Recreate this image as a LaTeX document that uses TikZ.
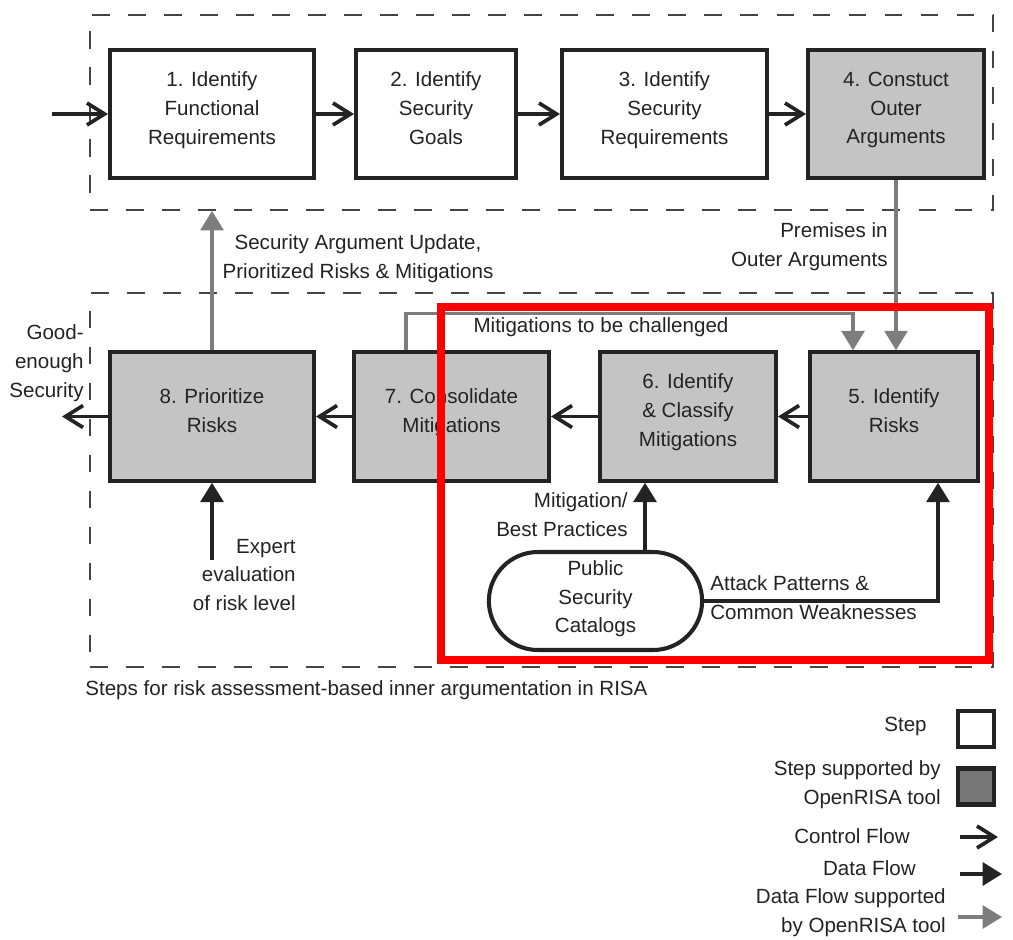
\documentclass[tikz,border=0pt]{standalone}
\usepackage{fontspec}
\setmainfont{Liberation Sans}
\usetikzlibrary{arrows.meta,shapes.misc}
\definecolor{ink}{RGB}{35,35,35}
\definecolor{stepfill}{RGB}{196,196,196}
\definecolor{keyfill}{RGB}{118,118,118}
\definecolor{toolline}{RGB}{125,125,125}
\begin{document}
\begin{tikzpicture}[x=0.02cm,y=-0.02cm,
  every node/.style={font=\fontsize{11.7}{16.4}\selectfont, text=ink},
  stepbox/.style={draw=ink, line width=2.3pt, align=center, minimum height=2.57cm, text depth=7pt, fill=white},
  toolbox/.style={stepbox, fill=stepfill},
  ctrl/.style={draw=ink, line width=2.1pt, -{Straight Barb[length=10pt,width=12.5pt,line width=2.1pt]}},
  data/.style={draw=ink, line width=2.1pt, -{Triangle[length=11pt,width=13pt]}},
  tooldata/.style={draw=toolline, line width=1.8pt, -{Triangle[length=11pt,width=13pt]}},
  phase/.style={draw=ink!85, line width=1.1pt, dash pattern=on 10pt off 10.5pt},
  note/.style={inner sep=0pt, align=center},
  lbl/.style={inner sep=0pt, align=right, anchor=east}]
\useasboundingbox (0,0) rectangle (1013,939);

\node[phase, minimum width=18.06cm, minimum height=3.9cm] (outer) at (541.5,112.5) {};
\node[phase, minimum width=18.06cm, minimum height=7.48cm] (inner) at (541.5,480) {};

\node[stepbox, minimum width=4.08cm] (1) at (212,114) {1. Identify\\Functional\\Requirements};
\node[stepbox, minimum width=3.2cm] (2) at (436,114) {2. Identify\\Security\\Goals};
\node[stepbox, minimum width=4.1cm] (3) at (664.5,114) {3. Identify\\Security\\Requirements};
\node[toolbox, minimum width=3.52cm] (4) at (896,114) {4. Constuct\\Outer\\Arguments};
\node[toolbox, minimum width=3.36cm] (5) at (894,416.5) {5. Identify\\Risks};
\node[toolbox, minimum width=3.52cm] (6) at (688,416.5) {6. Identify\\\& Classify\\Mitigations};
\node[toolbox, minimum width=3.9cm] (7) at (451.5,416.5) {7. Consolidate\\Mitigations};
\node[toolbox, minimum width=4.08cm] (8) at (212,416.5) {8. Prioritize\\Risks};
\node[draw=ink, line width=2.3pt, rounded rectangle, minimum width=4.5cm, minimum height=1.96cm, align=center, text depth=5pt, fill=white] (cat) at (595.5,601) {Public\\Security\\Catalogs};

\coordinate (in) at (52,114);
\coordinate (out) at (62,416.5);
\coordinate (expert) at (212,560);
\coordinate (m6) at ([xshift=-0.86cm]6.south);
\coordinate (a5) at ([xshift=0.88cm]5.south);
\coordinate (c7) at ([xshift=-0.91cm]7.north);
\coordinate (c5) at ([xshift=-0.82cm]5.north);

\path[ctrl] (in) -- (1);
\path[ctrl] (1) -- (2);
\path[ctrl] (2) -- (3);
\path[ctrl] (3) -- (4);
\path[ctrl] (5) -- (6);
\path[ctrl] (6) -- (7);
\path[ctrl] (7) -- (8);
\path[ctrl] (8) -- (out);

\path[data] (expert) -- (8);
\path[data] (m6 |- cat.north) -- (m6);
\path[data] (cat.east) -| (a5);

\path[tooldata] (8) -- (8.north |- outer.south);
\path[tooldata] (4) -- (4.south |- 5.north);
\path[tooldata] (c7) -- ++(0,-37) -| (c5);

\node[note] (upd) at (358,259) {Security Argument Update,\\Prioritized Risks \& Mitigations};
\node[lbl] (prem) at (888,247) {Premises in\\Outer Arguments};
\node[note] (chal) at (601,327) {Mitigations to be challenged};
\node[lbl] (good) at (84,363) {Good-\\enough\\Security};
\node[lbl] (eval) at (296,575) {Expert\\evaluation\\of risk level};
\node[lbl] (best) at (628,514.5) {Mitigation/\\Best Practices};
\node[note, align=left, anchor=west] (atk) at (710,598) {Attack Patterns \&\\Common Weaknesses};
\node[note, anchor=west] (cap) at (85,690) {Steps for risk assessment-based inner argumentation in RISA};

\node[draw=ink, line width=2.3pt, minimum size=0.72cm, fill=white] (kstep) at (976,729) {};
\node[lbl] (kstept) at (927,726) {Step};
\node[draw=ink, line width=2.3pt, minimum size=0.72cm, fill=keyfill] (ktool) at (976,786.5) {};
\node[lbl] (ktoolt) at (941,785) {Step supported by\\OpenRISA tool};
\node[lbl] (kctrlt) at (910,836) {Control Flow};
\node[lbl] (kdatat) at (916,868) {Data Flow};
\node[lbl] (ktdt) at (946,913) {Data Flow supported\\by OpenRISA tool};
\coordinate (kc1) at (960,837);
\coordinate (kc2) at (998,837);
\coordinate (kd1) at (960,874);
\coordinate (kd2) at (1002,874);
\coordinate (kt1) at (958,917);
\coordinate (kt2) at (1002,917);
\path[ctrl] (kc1) -- (kc2);
\path[data] (kd1) -- (kd2);
\path[tooldata] (kt1) -- (kt2);

\draw[red, line width=4.5pt] (441,307) rectangle (989,660);
\end{tikzpicture}
\end{document}
